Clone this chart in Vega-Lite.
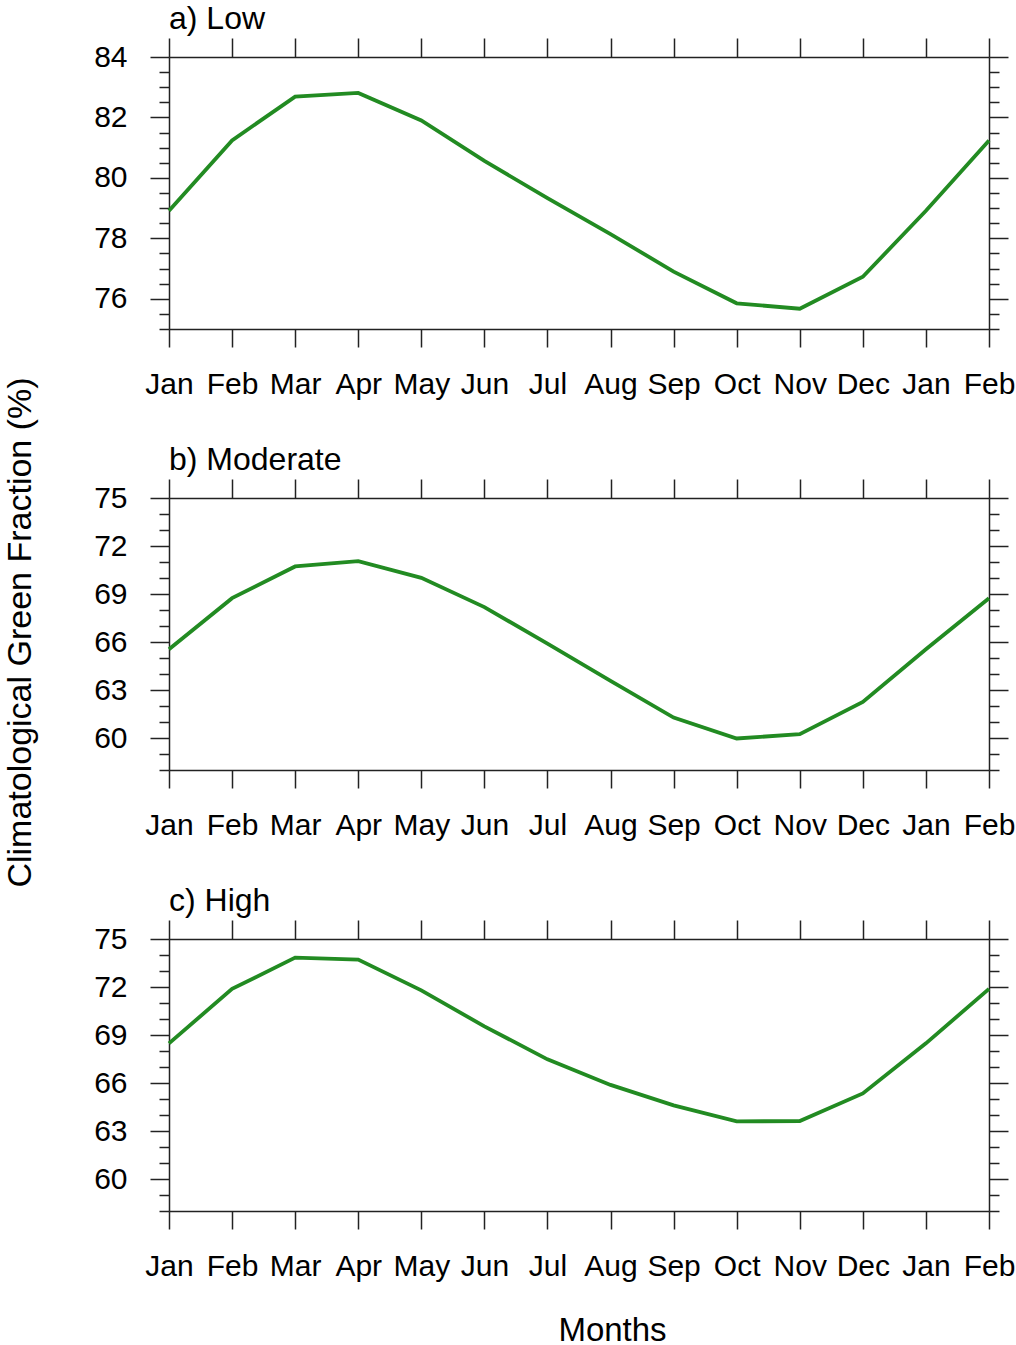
{
  "$schema": "https://vega.github.io/schema/vega-lite/v6.json",
  "padding": {"left": 3, "top": 3, "right": 0, "bottom": 0},
  "spacing": 169,
  "bounds": "flush",
  "datasets": {
    "low": [
      {"step": 0, "month": "Jan", "value": 78.91},
      {"step": 1, "month": "Feb", "value": 81.24},
      {"step": 2, "month": "Mar", "value": 82.69},
      {"step": 3, "month": "Apr", "value": 82.81},
      {"step": 4, "month": "May", "value": 81.90},
      {"step": 5, "month": "Jun", "value": 80.56},
      {"step": 6, "month": "Jul", "value": 79.33},
      {"step": 7, "month": "Aug", "value": 78.14},
      {"step": 8, "month": "Sep", "value": 76.90},
      {"step": 9, "month": "Oct", "value": 75.85},
      {"step": 10, "month": "Nov", "value": 75.67},
      {"step": 11, "month": "Dec", "value": 76.73},
      {"step": 12, "month": "Jan", "value": 78.91},
      {"step": 13, "month": "Feb", "value": 81.24}
    ],
    "moderate": [
      {"step": 0, "month": "Jan", "value": 65.55},
      {"step": 1, "month": "Feb", "value": 68.74},
      {"step": 2, "month": "Mar", "value": 70.72},
      {"step": 3, "month": "Apr", "value": 71.05},
      {"step": 4, "month": "May", "value": 70.01},
      {"step": 5, "month": "Jun", "value": 68.18},
      {"step": 6, "month": "Jul", "value": 65.90},
      {"step": 7, "month": "Aug", "value": 63.57},
      {"step": 8, "month": "Sep", "value": 61.28},
      {"step": 9, "month": "Oct", "value": 59.97},
      {"step": 10, "month": "Nov", "value": 60.24},
      {"step": 11, "month": "Dec", "value": 62.26},
      {"step": 12, "month": "Jan", "value": 65.55},
      {"step": 13, "month": "Feb", "value": 68.74}
    ],
    "high": [
      {"step": 0, "month": "Jan", "value": 68.48},
      {"step": 1, "month": "Feb", "value": 71.88},
      {"step": 2, "month": "Mar", "value": 73.84},
      {"step": 3, "month": "Apr", "value": 73.71},
      {"step": 4, "month": "May", "value": 71.79},
      {"step": 5, "month": "Jun", "value": 69.54},
      {"step": 6, "month": "Jul", "value": 67.48},
      {"step": 7, "month": "Aug", "value": 65.88},
      {"step": 8, "month": "Sep", "value": 64.60},
      {"step": 9, "month": "Oct", "value": 63.60},
      {"step": 10, "month": "Nov", "value": 63.62},
      {"step": 11, "month": "Dec", "value": 65.35},
      {"step": 12, "month": "Jan", "value": 68.48},
      {"step": 13, "month": "Feb", "value": 71.88}
    ]
  },
  "config": {
    "view": {"stroke": null},
    "font": "Liberation Sans",
    "axis": {
      "domainColor": "#222222",
      "tickColor": "#222222",
      "domainWidth": 1.5,
      "tickWidth": 1.5,
      "labelFont": "Liberation Sans",
      "labelFontSize": 30,
      "labelColor": "#000000",
      "titleFont": "Liberation Sans",
      "titleFontSize": 33,
      "titleFontWeight": "normal",
      "titleColor": "#000000",
      "grid": false,
      "labelOverlap": false,
      "labelFlush": false
    },
    "title": {"font": "Liberation Sans", "fontSize": 32, "fontWeight": "normal", "color": "#000000"}
  },
  "vconcat": [
    {
      "width": 820,
      "height": 272,
      "title": {"text": "a) Low", "anchor": "start", "frame": "group", "offset": 1},
      "data": {"name": "low"},
      "layer": [
        {
          "mark": {"type": "line", "color": "#228B22", "strokeWidth": 3.8},
          "encoding": {
            "x": {"field": "step", "type": "quantitative", "scale": {"domain": [0, 13], "nice": false, "zero": false},
              "axis": {"orient": "bottom", "title": null, "values": [0,1,2,3,4,5,6,7,8,9,10,11,12,13], "tickSize": 18, "labelPadding": 22,
                "labelExpr": "['Jan','Feb','Mar','Apr','May','Jun','Jul','Aug','Sep','Oct','Nov','Dec','Jan','Feb'][datum.value]"}},
            "y": {"field": "value", "type": "quantitative", "scale": {"domain": [75, 84], "nice": false, "zero": false},
              "axis": {"orient": "left", "title": "Climatological Green Fraction (%)", "titleFontSize": 34, "titlePadding": 56, "titleY": 575,
                "format": "d", "tickSize": 19, "labelPadding": 23, "values": [76,78,80,82,84]}}
          }
        },
        {
          "mark": {"type": "line", "strokeOpacity": 0},
          "encoding": {
            "x": {"field": "step", "type": "quantitative", "scale": {"domain": [0, 13], "nice": false, "zero": false},
              "axis": {"orient": "top", "title": null, "labels": false, "values": [0,1,2,3,4,5,6,7,8,9,10,11,12,13], "tickSize": 19}},
            "y": {"field": "value", "type": "quantitative", "scale": {"domain": [75, 84], "nice": false, "zero": false},
              "axis": {"orient": "right", "title": null, "labels": false, "tickSize": 19, "values": [76,78,80,82,84]}}
          }
        },
        {
          "mark": {"type": "line", "strokeOpacity": 0},
          "encoding": {
            "x": {"field": "step", "type": "quantitative", "scale": {"domain": [0, 13], "nice": false, "zero": false}, "axis": null},
            "y": {"field": "value", "type": "quantitative", "scale": {"domain": [75, 84], "nice": false, "zero": false},
              "axis": {"orient": "left", "title": null, "labels": false, "domain": false, "tickSize": 10,
                "values": [75,75.5,76.5,77,77.5,78.5,79,79.5,80.5,81,81.5,82.5,83,83.5]}}
          }
        },
        {
          "mark": {"type": "line", "strokeOpacity": 0},
          "encoding": {
            "x": {"field": "step", "type": "quantitative", "scale": {"domain": [0, 13], "nice": false, "zero": false}, "axis": null},
            "y": {"field": "value", "type": "quantitative", "scale": {"domain": [75, 84], "nice": false, "zero": false},
              "axis": {"orient": "right", "title": null, "labels": false, "domain": false, "tickSize": 10,
                "values": [75,75.5,76.5,77,77.5,78.5,79,79.5,80.5,81,81.5,82.5,83,83.5]}}
          }
        }
      ]
    },
    {
      "width": 820,
      "height": 272,
      "title": {"text": "b) Moderate", "anchor": "start", "frame": "group", "offset": 1},
      "data": {"name": "moderate"},
      "layer": [
        {
          "mark": {"type": "line", "color": "#228B22", "strokeWidth": 3.8},
          "encoding": {
            "x": {"field": "step", "type": "quantitative", "scale": {"domain": [0, 13], "nice": false, "zero": false},
              "axis": {"orient": "bottom", "title": null, "values": [0,1,2,3,4,5,6,7,8,9,10,11,12,13], "tickSize": 18, "labelPadding": 22,
                "labelExpr": "['Jan','Feb','Mar','Apr','May','Jun','Jul','Aug','Sep','Oct','Nov','Dec','Jan','Feb'][datum.value]"}},
            "y": {"field": "value", "type": "quantitative", "scale": {"domain": [58, 75], "nice": false, "zero": false},
              "axis": {"orient": "left", "title": null, "format": "d", "tickSize": 19, "labelPadding": 23,
                "values": [60,63,66,69,72,75]}}
          }
        },
        {
          "mark": {"type": "line", "strokeOpacity": 0},
          "encoding": {
            "x": {"field": "step", "type": "quantitative", "scale": {"domain": [0, 13], "nice": false, "zero": false},
              "axis": {"orient": "top", "title": null, "labels": false, "values": [0,1,2,3,4,5,6,7,8,9,10,11,12,13], "tickSize": 19}},
            "y": {"field": "value", "type": "quantitative", "scale": {"domain": [58, 75], "nice": false, "zero": false},
              "axis": {"orient": "right", "title": null, "labels": false, "tickSize": 19, "values": [60,63,66,69,72,75]}}
          }
        },
        {
          "mark": {"type": "line", "strokeOpacity": 0},
          "encoding": {
            "x": {"field": "step", "type": "quantitative", "scale": {"domain": [0, 13], "nice": false, "zero": false}, "axis": null},
            "y": {"field": "value", "type": "quantitative", "scale": {"domain": [58, 75], "nice": false, "zero": false},
              "axis": {"orient": "left", "title": null, "labels": false, "domain": false, "tickSize": 10,
                "values": [58,59,61,62,64,65,67,68,70,71,73,74]}}
          }
        },
        {
          "mark": {"type": "line", "strokeOpacity": 0},
          "encoding": {
            "x": {"field": "step", "type": "quantitative", "scale": {"domain": [0, 13], "nice": false, "zero": false}, "axis": null},
            "y": {"field": "value", "type": "quantitative", "scale": {"domain": [58, 75], "nice": false, "zero": false},
              "axis": {"orient": "right", "title": null, "labels": false, "domain": false, "tickSize": 10,
                "values": [58,59,61,62,64,65,67,68,70,71,73,74]}}
          }
        }
      ]
    },
    {
      "width": 820,
      "height": 272,
      "title": {"text": "c) High", "anchor": "start", "frame": "group", "offset": 1},
      "data": {"name": "high"},
      "layer": [
        {
          "mark": {"type": "line", "color": "#228B22", "strokeWidth": 3.8},
          "encoding": {
            "x": {"field": "step", "type": "quantitative", "scale": {"domain": [0, 13], "nice": false, "zero": false},
              "axis": {"orient": "bottom", "title": "Months", "titlePadding": 33, "titleX": 443, "values": [0,1,2,3,4,5,6,7,8,9,10,11,12,13], "tickSize": 18, "labelPadding": 22,
                "labelExpr": "['Jan','Feb','Mar','Apr','May','Jun','Jul','Aug','Sep','Oct','Nov','Dec','Jan','Feb'][datum.value]"}},
            "y": {"field": "value", "type": "quantitative", "scale": {"domain": [58, 75], "nice": false, "zero": false},
              "axis": {"orient": "left", "title": null, "format": "d", "tickSize": 19, "labelPadding": 23,
                "values": [60,63,66,69,72,75]}}
          }
        },
        {
          "mark": {"type": "line", "strokeOpacity": 0},
          "encoding": {
            "x": {"field": "step", "type": "quantitative", "scale": {"domain": [0, 13], "nice": false, "zero": false},
              "axis": {"orient": "top", "title": null, "labels": false, "values": [0,1,2,3,4,5,6,7,8,9,10,11,12,13], "tickSize": 19}},
            "y": {"field": "value", "type": "quantitative", "scale": {"domain": [58, 75], "nice": false, "zero": false},
              "axis": {"orient": "right", "title": null, "labels": false, "tickSize": 19, "values": [60,63,66,69,72,75]}}
          }
        },
        {
          "mark": {"type": "line", "strokeOpacity": 0},
          "encoding": {
            "x": {"field": "step", "type": "quantitative", "scale": {"domain": [0, 13], "nice": false, "zero": false}, "axis": null},
            "y": {"field": "value", "type": "quantitative", "scale": {"domain": [58, 75], "nice": false, "zero": false},
              "axis": {"orient": "left", "title": null, "labels": false, "domain": false, "tickSize": 10,
                "values": [58,59,61,62,64,65,67,68,70,71,73,74]}}
          }
        },
        {
          "mark": {"type": "line", "strokeOpacity": 0},
          "encoding": {
            "x": {"field": "step", "type": "quantitative", "scale": {"domain": [0, 13], "nice": false, "zero": false}, "axis": null},
            "y": {"field": "value", "type": "quantitative", "scale": {"domain": [58, 75], "nice": false, "zero": false},
              "axis": {"orient": "right", "title": null, "labels": false, "domain": false, "tickSize": 10,
                "values": [58,59,61,62,64,65,67,68,70,71,73,74]}}
          }
        }
      ]
    }
  ]
}
